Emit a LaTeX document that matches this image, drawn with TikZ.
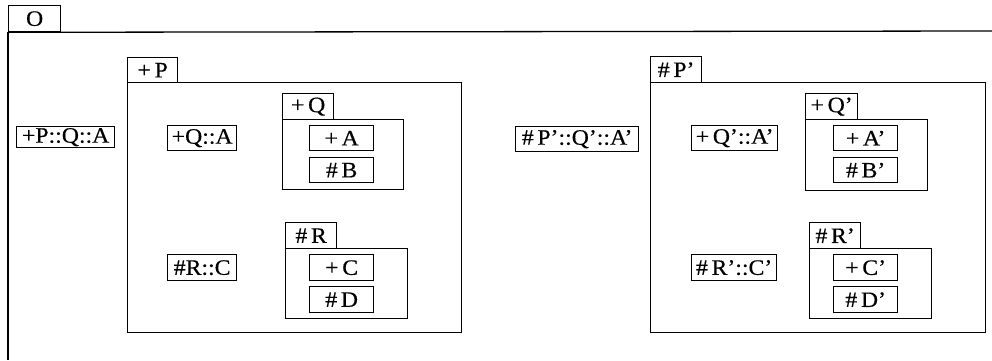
\documentclass[tikz,border=0pt]{standalone}
\usepackage{fontspec}
\setmainfont{Liberation Serif}[FakeStretch=1.08,FakeBold=0.4]
\begin{document}
\begin{tikzpicture}[x=1pt,y=-1pt,
  bx/.style={draw, line width=1.3pt, inner sep=0pt, anchor=north west, font=\fontsize{22}{23}\selectfont},
  ln/.style={line width=1.3pt}]
\useasboundingbox (0,0) rectangle (992,360);
% outer O frame
\node[bx, minimum width=52pt, minimum height=26pt] (Otab) at (8,5) {O};
\coordinate (Oend) at (992,31);
\coordinate (Obot) at (8,360);
\draw[ln] (Otab.south west) -- (Oend);
\draw[ln] (Otab.south west) -- (Obot);
\node[bx, minimum width=98pt, minimum height=21pt] (pqa) at (16,126) {+P::Q::A};
% left package P
\node[bx, minimum width=50pt, minimum height=25pt] (Ptab) at (127,57) {+\,P};
\node[bx, minimum width=334pt, minimum height=250pt] (Pbody) at (127,82) {};
\node[bx, minimum width=69pt, minimum height=25pt] (qa) at (167,125) {+Q::A};
\node[bx, minimum width=51pt, minimum height=26pt] (Qtab) at (282,93) {+\,Q};
\node[bx, minimum width=121pt, minimum height=70pt] (Qbody) at (282,119) {};
\node[bx, minimum width=64pt, minimum height=25pt] (A) at (309,125) {+\,A};
\node[bx, minimum width=64pt, minimum height=25pt] (B) at (309,157) {\#\,B};
\node[bx, minimum width=69pt, minimum height=26pt] (rc) at (167,254) {\#R::C};
\node[bx, minimum width=51pt, minimum height=26pt] (Rtab) at (285,222) {\#\,R};
\node[bx, minimum width=122pt, minimum height=70pt] (Rbody) at (285,248) {};
\node[bx, minimum width=64pt, minimum height=26pt] (C) at (309,254) {+\,C};
\node[bx, minimum width=64pt, minimum height=26pt] (D) at (309,286) {\#\,D};
% right package P'
\node[bx, minimum width=123pt, minimum height=25pt] (ppqa) at (515,126) {\#\,P'::Q'::A'};
\node[bx, minimum width=51pt, minimum height=26pt] (P2tab) at (650,56) {\#\,P'};
\node[bx, minimum width=335pt, minimum height=250pt] (P2body) at (650,82) {};
\node[bx, minimum width=86pt, minimum height=25pt] (qa2) at (691,125) {+\,Q'::A'};
\node[bx, minimum width=52pt, minimum height=26pt] (Q2tab) at (805,93) {+\,Q'};
\node[bx, minimum width=122pt, minimum height=71pt] (Q2body) at (805,119) {};
\node[bx, minimum width=64pt, minimum height=25pt] (A2) at (833,125) {+\,A'};
\node[bx, minimum width=64pt, minimum height=25pt] (B2) at (833,157) {\#\,B'};
\node[bx, minimum width=85pt, minimum height=26pt] (rc2) at (691,254) {\#\,R'::C'};
\node[bx, minimum width=51pt, minimum height=26pt] (R2tab) at (809,222) {\#\,R'};
\node[bx, minimum width=122pt, minimum height=70pt] (R2body) at (809,248) {};
\node[bx, minimum width=64pt, minimum height=26pt] (C2) at (833,254) {+\,C'};
\node[bx, minimum width=64pt, minimum height=26pt] (D2) at (833,286) {\#\,D'};
\end{tikzpicture}
\end{document}
